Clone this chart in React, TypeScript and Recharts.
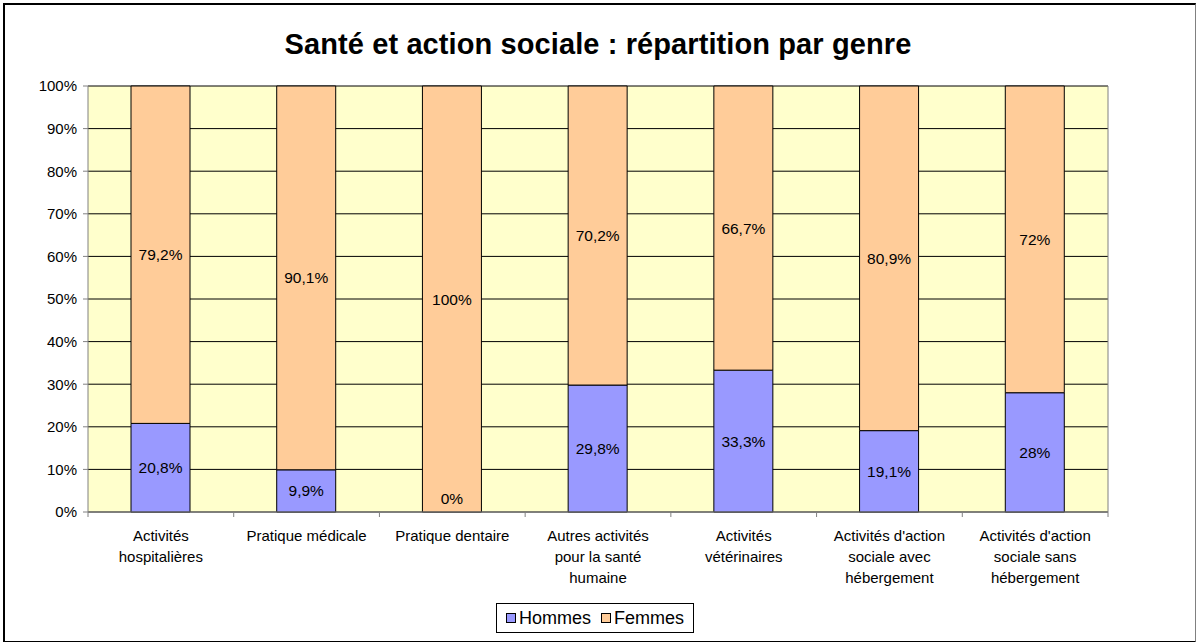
import React from 'react';
import { BarChart, Bar, XAxis, YAxis, CartesianGrid, LabelList } from 'recharts';

const categories = [
  'Activités\nhospitalières',
  'Pratique médicale',
  'Pratique dentaire',
  'Autres activités\npour la santé\nhumaine',
  'Activités\nvétérinaires',
  "Activités d'action\nsociale avec\nhébergement",
  "Activités d'action\nsociale sans\nhébergement",
];
const hommes = [20.8, 9.9, 0, 29.8, 33.3, 19.1, 28];
const femmes = [79.2, 90.1, 100, 70.2, 66.7, 80.9, 72];
const yTicks = [0, 10, 20, 30, 40, 50, 60, 70, 80, 90, 100];
const seriesKeys = ['hommes', 'femmes'];
const seriesNames = ['Hommes', 'Femmes'];
const seriesColors = ['#9999FF', '#FFCC99'];
const title = 'Santé et action sociale : répartition par genre';

const data = categories.map((c, i) => ({ name: c, hommes: hommes[i], femmes: femmes[i] }));

const FONT = 'Liberation Sans, Arial, Helvetica, sans-serif';

const fmt = (v: number) => `${String(v).replace('.', ',')}%`;

const labelText = (x: number, y: number, s: string, key?: string) => (
  <text key={key} x={x} y={y} textAnchor="middle" dominantBaseline="central" fontSize={15.5} fontFamily={FONT} fill="#000">
    {s}
  </text>
);

const HommesLabel = (props: any) => {
  const { x, y, width, height, value } = props;
  const h = Number(height) || 0;
  if (h <= 0.5) return null;
  return labelText(Number(x) + Number(width) / 2, Number(y) + h / 2, fmt(Number(value)));
};

// Femmes label; also writes the Hommes label when that segment has zero height
const FemmesLabel = (props: any) => {
  const { x, y, width, height, value, index } = props;
  const h = Number(height) || 0;
  const cx = Number(x) + Number(width) / 2;
  const bottom = Number(y) + h;
  const zeroH = hommes[index] === 0;
  return (
    <g>
      {labelText(cx, Number(y) + h / 2, fmt(Number(value)), 'f')}
      {zeroH && labelText(cx, bottom - 14, fmt(hommes[index]), 'h')}
    </g>
  );
};

const CatTick = (props: any) => {
  const { x, y, payload, index } = props;
  const lines = String(payload.value).split('\n');
  const off = payload.offset ?? 0;
  const last = index === categories.length - 1;
  return (
    <g>
      <line x1={x - off} x2={x - off} y1={y} y2={y + 5} stroke="#808080" />
      {last && <line x1={x + off} x2={x + off} y1={y} y2={y + 5} stroke="#808080" />}
      {lines.map((l, i) => (
        <text key={i} x={x} y={y + 23 + i * 21} textAnchor="middle" dominantBaseline="central" fontSize={15} fontFamily={FONT} fill="#000">
          {l}
        </text>
      ))}
    </g>
  );
};

export default function App() {
  return (
    <div style={{ position: 'absolute', left: 0, top: 0, width: 1196, height: 642, background: '#fff', fontFamily: FONT }}>
      <div
        style={{
          position: 'absolute',
          left: 3,
          top: 3,
          width: 1190,
          height: 636,
          borderTop: '2px solid #000',
          borderLeft: '2px solid #000',
          borderBottom: '2px solid #000',
          borderRight: '1px solid #808080',
        }}
      />
      <div
        style={{
          position: 'absolute',
          left: 0,
          top: 26,
          width: 1196,
          textAlign: 'center',
          fontSize: 29,
          fontWeight: 'bold',
          lineHeight: '36px',
          color: '#000',
          letterSpacing: 0.1,
        }}
      >
        {title}
      </div>
      <div style={{ position: 'absolute', left: 0, top: 0 }}>
        <BarChart width={1196} height={642} data={data} margin={{ top: 86, right: 0, bottom: 0, left: 0 }}>
          <CartesianGrid vertical={false} stroke="#000" fill="#FFFFCC" fillOpacity={1} />
          <XAxis
            dataKey="name"
            height={130}
            interval={0}
            tickLine={false}
            tickSize={0}
            tickMargin={0}
            axisLine={{ stroke: '#808080' }}
            tick={<CatTick />}
          />
          <YAxis
            width={88}
            domain={[0, 100]}
            ticks={yTicks}
            tickFormatter={(v: number) => `${v}%`}
            tickSize={5}
            tickMargin={6}
            tickLine={{ stroke: '#808080' }}
            axisLine={{ stroke: '#808080' }}
            tick={{ fontSize: 15, fontFamily: FONT, fill: '#000' }}
            interval={0}
          />
          <YAxis
            yAxisId="r"
            orientation="right"
            width={88}
            domain={[0, 100]}
            tick={false}
            tickLine={false}
            axisLine={{ stroke: '#808080' }}
          />
          {seriesKeys.map((k, i) => (
            <Bar
              key={k}
              dataKey={k}
              name={seriesNames[i]}
              stackId="s"
              fill={seriesColors[i]}
              stroke="#000"
              strokeWidth={1}
              barSize={59}
              isAnimationActive={false}
            >
              <LabelList dataKey={k} content={i === 0 ? <HommesLabel /> : <FemmesLabel />} />
            </Bar>
          ))}
        </BarChart>
      </div>
      <div
        style={{
          position: 'absolute',
          left: 496,
          top: 603,
          width: 196,
          height: 28,
          border: '1px solid #000',
          background: '#fff',
          display: 'flex',
          alignItems: 'center',
          justifyContent: 'center',
          gap: 10,
          fontSize: 18,
          color: '#000',
        }}
      >
        {seriesNames.map((n, i) => (
          <div key={n} style={{ display: 'flex', alignItems: 'center' }}>
            <span
              style={{
                display: 'inline-block',
                width: 8,
                height: 8,
                background: seriesColors[i],
                border: '1px solid #000',
                marginRight: 3,
              }}
            />
            <span>{n}</span>
          </div>
        ))}
      </div>
    </div>
  );
}
